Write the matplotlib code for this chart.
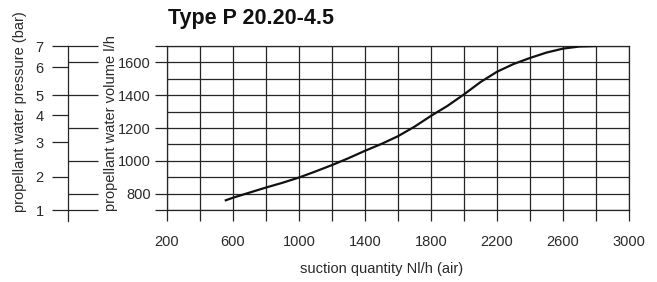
import matplotlib
matplotlib.use('Agg')
import matplotlib.pyplot as plt

# curve: suction quantity Nl/h (air) vs propellant water volume l/h
suction = [550, 600, 700, 800, 900, 1000, 1100, 1200, 1300, 1400, 1500, 1600, 1700,
           1800, 1900, 2000, 2100, 2200, 2300, 2400, 2500, 2600, 2700, 2800]
volume = [757, 775, 806, 837, 866, 898, 935, 974, 1016, 1061, 1103, 1150, 1208,
          1274, 1335, 1405, 1480, 1543, 1590, 1627, 1660, 1684, 1697, 1700]

# pressure scale (bar) and where each mark sits on the volume scale
pressure_bar = [1, 2, 3, 4, 5, 6, 7]
pressure_at_volume = [700, 904, 1114, 1278, 1400, 1569, 1700]

x_grid = list(range(200, 3001, 200))
x_labels = [str(v) if (v - 200) % 400 == 0 else '' for v in x_grid]
vol_major = [700, 800, 1000, 1200, 1400, 1600, 1700]
vol_labels = ['', '800', '1000', '1200', '1400', '1600', '']
vol_minor = [900, 1100, 1300, 1500]

plt.rcParams['font.family'] = ['Liberation Sans', 'DejaVu Sans']
W, H = 657, 282
fig = plt.figure(figsize=(W / 100, H / 100), dpi=100)
fig.patch.set_facecolor('white')

def box(l, r, t, b):
    return [l / W, 1 - b / H, (r - l) / W, (b - t) / H]

line_c = '#252525'
text_c = '#2a2a2a'

# main chart
ax = fig.add_axes(box(167, 629, 46, 210))
ax.plot(suction, volume, color='#111111', lw=1.6, solid_capstyle='butt', zorder=3)
ax.set_xlim(200, 3000)
ax.set_ylim(700, 1700)
ax.set_xticks(x_grid)
ax.set_xticklabels(x_labels)
ax.set_yticks(vol_major)
ax.set_yticklabels(vol_labels)
ax.set_yticks(vol_minor, minor=True)
ax.grid(True, which='both', color=line_c, lw=0.9)
ax.tick_params(axis='x', direction='out', length=7.9, width=0.9, color=line_c,
               pad=10, labelsize=10.5, labelcolor=text_c)
ax.tick_params(axis='y', which='major', direction='out', length=8.6, width=0.9,
               color=line_c, pad=3.2, labelsize=10.5, labelcolor=text_c)
ax.tick_params(axis='y', which='minor', length=0)
for s in ax.spines.values():
    s.set_color(line_c)
    s.set_linewidth(0.9)
ax.set_xlabel('suction quantity Nl/h (air)', fontsize=10.5, color=text_c, va='center')
ax.xaxis.set_label_coords((382 - 167) / 462, (210 - 269) / 164)
ax.set_ylabel('propellant water volume l/h', fontsize=10.5, color=text_c, va='center')
ax.yaxis.set_label_coords((111 - 167) / 462, (210 - 123) / 164)

# pressure scale on the far left
axp = fig.add_axes(box(68, 98, 46, 210))
axp.set_xlim(0, 1)
axp.set_ylim(700, 1700)
axp.patch.set_visible(False)
for k in ['top', 'right', 'bottom']:
    axp.spines[k].set_visible(False)
axp.spines['left'].set_color(line_c)
axp.spines['left'].set_linewidth(0.9)
axp.spines['left'].set_bounds(633, 1700)
axp.set_xticks([])
axp.set_yticks(pressure_at_volume)
axp.set_yticklabels([str(p) for p in pressure_bar])
axp.tick_params(axis='y', direction='out', length=11.5, width=0.9,
                color=line_c, pad=6, labelsize=10.5, labelcolor=text_c)
axp.hlines(vol_major, 0, 1, color=line_c, lw=0.9, clip_on=False)
axp.set_ylabel('propellant water pressure (bar)', fontsize=10.5, color=text_c, va='center')
axp.yaxis.set_label_coords((20 - 68) / 30, (210 - 112) / 164)

fig.text(168 / W, 1 - 8 / H, 'Type P 20.20-4.5', fontsize=15.5, fontweight='bold',
         color='#111111', ha='left', va='top')

fig.savefig('out.png', dpi=100)
